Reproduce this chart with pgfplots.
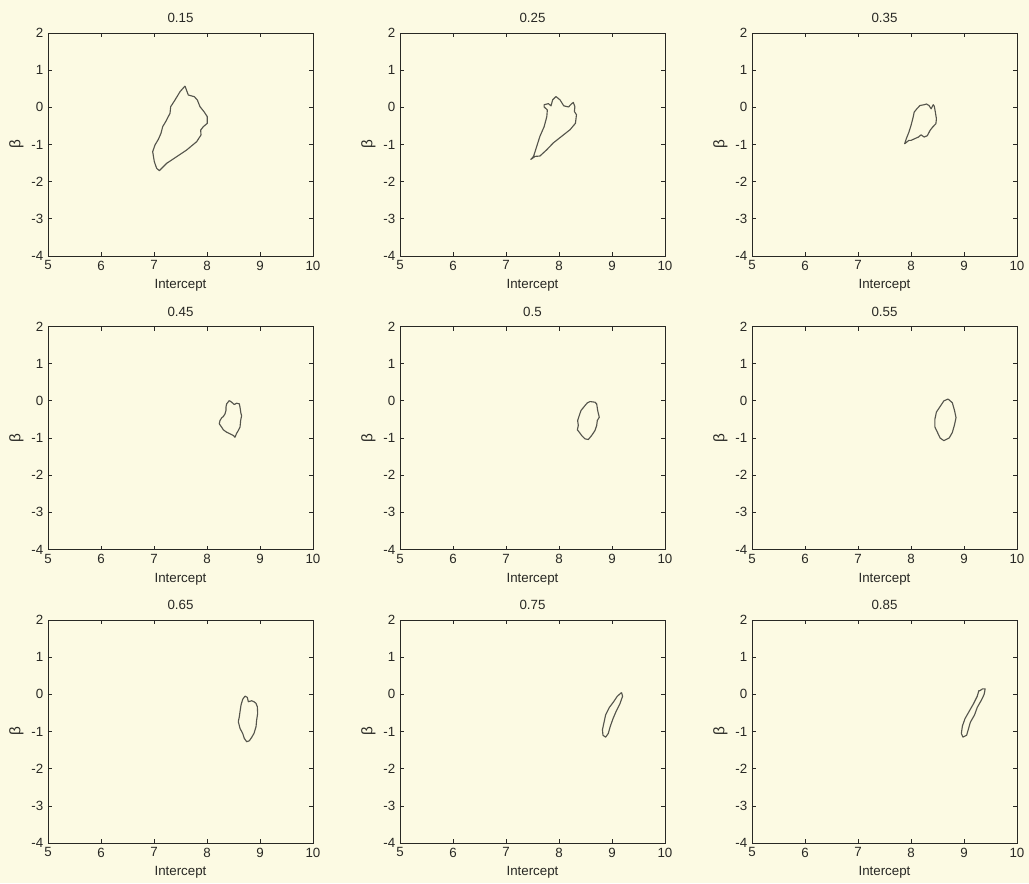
\documentclass[border=0pt]{standalone}
\usepackage{fontspec}
\setmainfont{Liberation Sans}
\usepackage{pgfplots}
\pgfplotsset{compat=1.18}
\usepgfplotslibrary{groupplots}
\usetikzlibrary{backgrounds}
\definecolor{paper}{RGB}{252,250,227}
\definecolor{ink}{RGB}{85,85,76}
\definecolor{axisink}{RGB}{40,40,36}
\tikzset{contour/.style={draw=ink, line width=0.85pt, line join=round, mark=none}}
\begin{document}
\begin{tikzpicture}[font=\fontsize{10}{12}\selectfont]
\begin{groupplot}[
  group style={group size=3 by 3, horizontal sep=65.25pt, vertical sep=52.9pt},
  width=198.75pt, height=167.25pt, scale only axis,
  xmin=5, xmax=10, ymin=-4, ymax=2,
  xtick={5,6,7,8,9,10}, ytick={-4,-3,-2,-1,0,1,2},
  tick align=inside, major tick length=3pt,
  axis line style={axisink, line width=0.7pt},
  every tick/.style={axisink, line width=0.6pt},
  tick label style={font=\fontsize{10}{12}\selectfont, text=axisink},
  label style={font=\fontsize{10}{12}\selectfont, text=axisink},
  ylabel style={font=\fontsize{11.5}{12}\selectfont, yshift=-1pt},
  title style={font=\fontsize{10}{12}\selectfont, text=axisink, yshift=-2pt},
  /pgf/number format/assume math mode=true,
  xlabel={Intercept}, ylabel={β},
]
\nextgroupplot[title={0.15}]
\addplot[contour] coordinates {(7.585,0.574) (7.647,0.332) (7.761,0.287) (7.818,0.197) (7.868,0.017) (7.943,-0.117) (8.006,-0.252) (8.006,-0.430) (7.931,-0.520) (7.881,-0.610) (7.887,-0.744) (7.805,-0.924) (7.616,-1.148) (7.428,-1.328) (7.239,-1.506) (7.101,-1.704) (7.050,-1.641) (7.006,-1.462) (6.975,-1.193) (7.019,-1.013) (7.082,-0.861) (7.132,-0.699) (7.164,-0.520) (7.220,-0.386) (7.302,-0.161) (7.315,0.017) (7.396,0.197) (7.491,0.421) (7.585,0.574)};
\nextgroupplot[title={0.25}]
\addplot[contour] coordinates {(7.943,0.29) (8.02,0.20) (8.09,0.04) (8.18,0.01) (8.24,0.10) (8.27,0.13) (8.30,0.02) (8.29,-0.11) (8.33,-0.20) (8.31,-0.43) (8.21,-0.60) (8.05,-0.78) (7.89,-0.96) (7.77,-1.14) (7.64,-1.31) (7.55,-1.32) (7.47,-1.40) (7.52,-1.32) (7.58,-1.05) (7.64,-0.78) (7.72,-0.52) (7.77,-0.25) (7.78,-0.07) (7.72,0.01) (7.72,0.07) (7.80,0.10) (7.85,0.04) (7.88,0.20) (7.943,0.29)};
\nextgroupplot[title={0.35}]
\addplot[contour] coordinates {(8.25,0.07) (8.29,0.09) (8.34,0.05) (8.38,-0.04) (8.42,0.07) (8.44,0.03) (8.46,-0.13) (8.48,-0.31) (8.47,-0.44) (8.41,-0.53) (8.36,-0.62) (8.31,-0.76) (8.25,-0.80) (8.19,-0.74) (8.14,-0.80) (8.06,-0.85) (8.00,-0.89) (7.96,-0.89) (7.88,-0.98) (7.91,-0.85) (7.96,-0.67) (8.00,-0.49) (8.04,-0.27) (8.06,-0.13) (8.11,-0.04) (8.17,0.05) (8.25,0.07)};
\nextgroupplot[title={0.45}]
\addplot[contour] coordinates {(8.421,0.009) (8.465,-0.036) (8.516,-0.098) (8.560,-0.063) (8.610,-0.080) (8.623,-0.170) (8.642,-0.349) (8.654,-0.394) (8.635,-0.529) (8.623,-0.708) (8.591,-0.798) (8.560,-0.870) (8.528,-0.978) (8.497,-0.932) (8.434,-0.887) (8.371,-0.843) (8.308,-0.779) (8.277,-0.708) (8.232,-0.618) (8.245,-0.529) (8.277,-0.457) (8.308,-0.421) (8.340,-0.349) (8.358,-0.260) (8.358,-0.170) (8.371,-0.080) (8.421,0.009)};
\nextgroupplot[title={0.5}]
\addplot[contour] coordinates {(8.585,-0.018) (8.679,-0.036) (8.711,-0.081) (8.730,-0.260) (8.760,-0.440) (8.723,-0.529) (8.711,-0.663) (8.679,-0.798) (8.616,-0.932) (8.553,-1.040) (8.491,-1.022) (8.428,-0.932) (8.383,-0.843) (8.346,-0.779) (8.365,-0.663) (8.352,-0.529) (8.383,-0.394) (8.415,-0.260) (8.491,-0.125) (8.535,-0.054) (8.585,-0.018)};
\nextgroupplot[title={0.55}]
\addplot[contour] coordinates {(8.70,0.05) (8.78,-0.05) (8.82,-0.25) (8.85,-0.45) (8.82,-0.65) (8.78,-0.85) (8.72,-1.00) (8.62,-1.07) (8.55,-1.00) (8.50,-0.85) (8.45,-0.70) (8.45,-0.50) (8.48,-0.30) (8.55,-0.15) (8.62,0.00) (8.70,0.05)};
\nextgroupplot[title={0.65}]
\addplot[contour] coordinates {(8.717,-0.045) (8.761,-0.081) (8.780,-0.197) (8.843,-0.171) (8.887,-0.197) (8.925,-0.242) (8.950,-0.332) (8.956,-0.511) (8.937,-0.690) (8.925,-0.870) (8.887,-1.049) (8.843,-1.156) (8.799,-1.247) (8.749,-1.273) (8.704,-1.184) (8.673,-1.049) (8.623,-0.914) (8.591,-0.735) (8.610,-0.601) (8.623,-0.467) (8.642,-0.287) (8.673,-0.134) (8.717,-0.045)};
\nextgroupplot[title={0.75}]
\addplot[contour] coordinates {(9.18,0.05) (9.20,-0.05) (9.15,-0.25) (9.08,-0.45) (9.02,-0.65) (8.97,-0.85) (8.93,-1.05) (8.88,-1.15) (8.83,-1.10) (8.82,-0.95) (8.85,-0.75) (8.88,-0.55) (8.95,-0.35) (9.03,-0.20) (9.10,-0.05) (9.18,0.05)};
\nextgroupplot[title={0.85}]
\addplot[contour] coordinates {(9.30,0.10) (9.35,0.15) (9.40,0.15) (9.38,0.00) (9.33,-0.15) (9.25,-0.35) (9.20,-0.55) (9.12,-0.75) (9.08,-0.95) (9.05,-1.10) (8.98,-1.15) (8.95,-1.05) (8.97,-0.85) (9.02,-0.65) (9.10,-0.45) (9.18,-0.25) (9.25,-0.05) (9.28,0.10) (9.30,0.10)};
\end{groupplot}
\begin{scope}[on background layer]
\fill[paper] ([shift={(-36pt,-470.25pt)}]group c1r1.south west) rectangle ([shift={(735.75pt,192pt)}]group c1r1.south west);
\end{scope}
\end{tikzpicture}
\end{document}
